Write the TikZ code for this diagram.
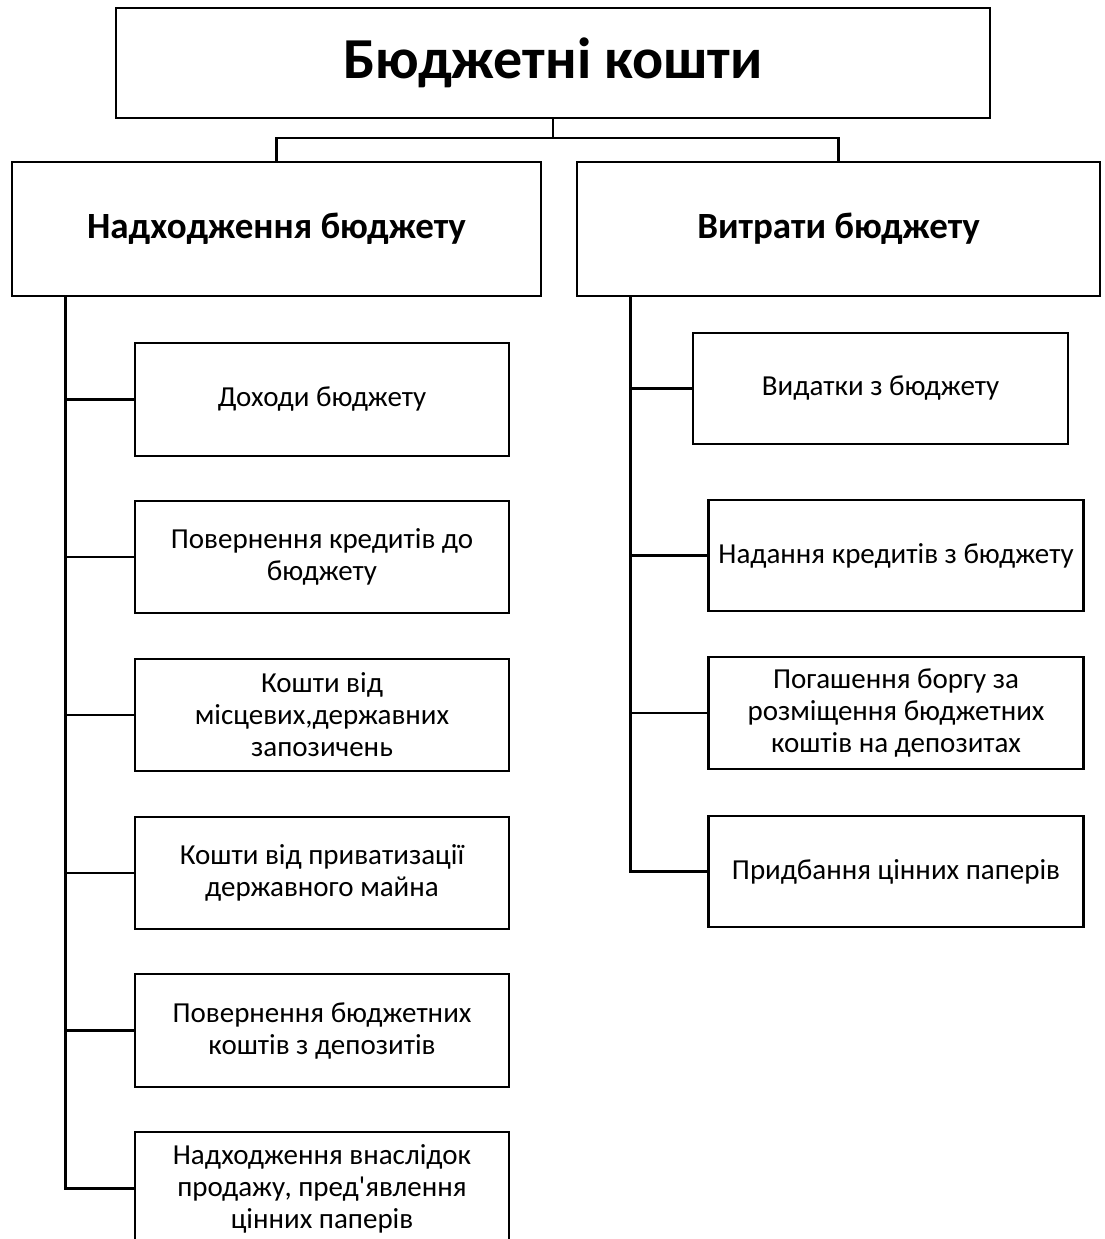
\documentclass[tikz,border=0pt]{standalone}
\usepackage{fontspec}
\setmainfont{Carlito}[Ligatures=TeXOff]
\begin{document}
\begin{tikzpicture}[x=1pt,y=-1pt,
  box/.style={draw=black, line width=2.6pt, rectangle, inner sep=0pt, align=center,
    font=\fontsize{29}{32}\selectfont},
  lnk/.style={draw=black, line width=2.6pt},
  trunk/.style={draw=black, line width=3pt}]
\useasboundingbox[fill=white] (0,0) rectangle (1104,1239);
% title and main branches
\node[box, minimum width=874pt, minimum height=110pt, font=\fontsize{58}{64}\selectfont\bfseries] (T) at (553,63) {Бюджетні кошти};
\node[box, minimum width=529pt, minimum height=134pt, font=\fontsize{37}{44}\selectfont\bfseries] (L) at (276.5,229) {Надходження бюджету};
\node[box, minimum width=523pt, minimum height=134pt, font=\fontsize{37}{44}\selectfont\bfseries] (R) at (838.5,229) {Витрати бюджету};
\coordinate (bus) at (553,138);
\draw[lnk] (T.south) -- (bus);
\draw[lnk] (L.north) |- (bus) -| (R.north);
% left children
\node[box, minimum width=374pt, minimum height=113pt] (l1) at (322,399.5) {Доходи бюджету};
\node[box, minimum width=374pt, minimum height=112pt] (l2) at (322,557) {Повернення кредитів до\\бюджету};
\node[box, minimum width=374pt, minimum height=112pt] (l3) at (322,715) {Кошти від\\місцевих,державних\\запозичень};
\node[box, minimum width=374pt, minimum height=112pt] (l4) at (322,873) {Кошти від приватизації\\державного майна};
\node[box, minimum width=374pt, minimum height=113pt] (l5) at (322,1030.5) {Повернення бюджетних\\коштів з депозитів};
\node[box, minimum width=374pt, minimum height=113pt] (l6) at (322,1188.5) {Надходження внаслідок\\продажу, пред'явлення\\цінних паперів};
\coordinate (lt) at (65,1188.5);
\draw[trunk] (lt |- L.south) -- (lt) -- (l6.west);
\foreach \n in {l1,l2,l3,l4,l5} \draw[lnk] (lt |- \n.west) -- (\n.west);
% right children
\node[box, minimum width=375pt, minimum height=111pt] (r1) at (880.5,388.5) {Видатки з бюджету};
\node[box, minimum width=375pt, minimum height=111pt] (r2) at (896,555.5) {Надання кредитів з бюджету};
\node[box, minimum width=375pt, minimum height=112pt] (r3) at (896,713) {Погашення боргу за\\розміщення бюджетних\\коштів на депозитах};
\node[box, minimum width=375pt, minimum height=111pt] (r4) at (896,871.5) {Придбання цінних паперів};
\coordinate (rt) at (630,871.5);
\draw[trunk] (rt |- R.south) -- (rt) -- (r4.west);
\foreach \n in {r1,r2,r3} \draw[lnk] (rt |- \n.west) -- (\n.west);
\end{tikzpicture}
\end{document}
